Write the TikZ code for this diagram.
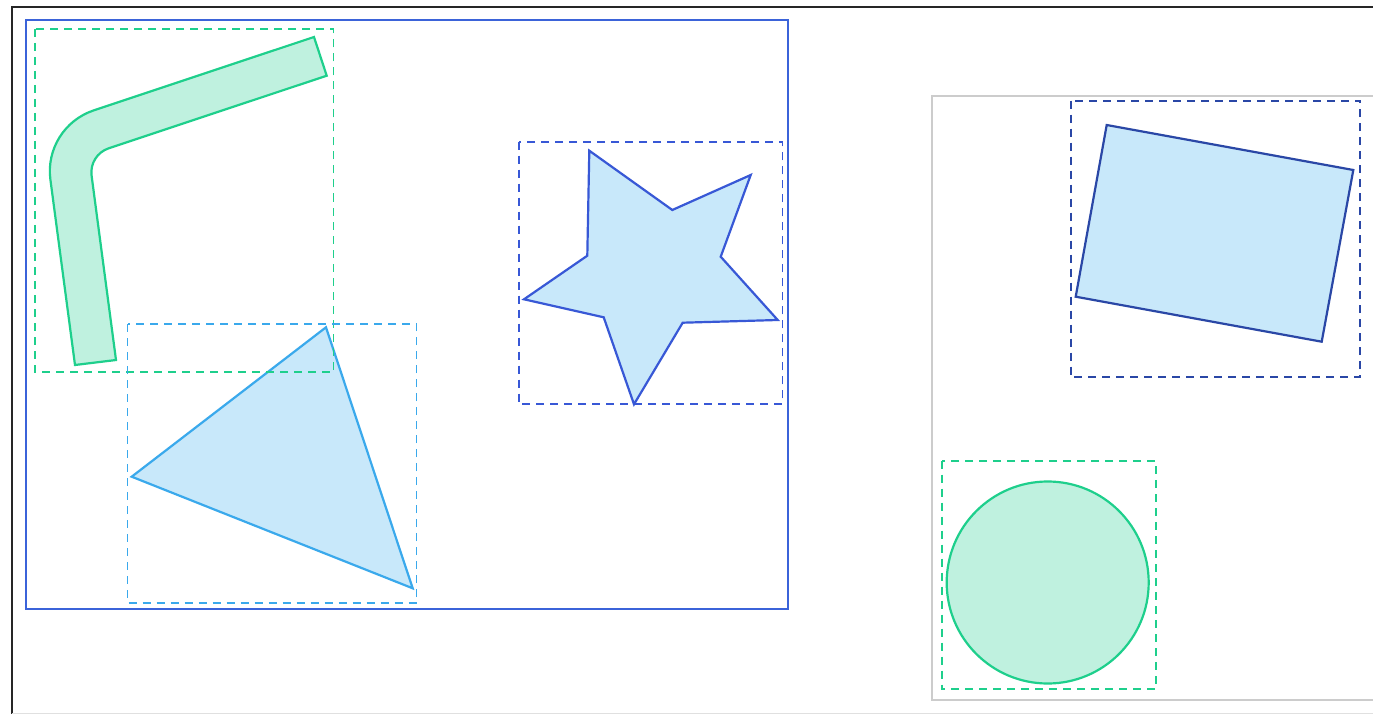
\documentclass[tikz,border=0pt]{standalone}
\usetikzlibrary{calc}
\definecolor{emer}{HTML}{1ECF8C}
\definecolor{emerfill}{HTML}{BFF1DF}
\definecolor{frameblue}{HTML}{3B63D9}
\definecolor{sky}{HTML}{3AA9EC}
\definecolor{starblue}{HTML}{3858D6}
\definecolor{navy}{HTML}{2A47A6}
\definecolor{lightfill}{HTML}{C8E8FA}
\definecolor{panelgray}{HTML}{CCCCCC}
\tikzset{
  bbox/.style={dash pattern=on 8pt off 6pt, line width=1.9pt},
  shapeline/.style={line width=2.2pt, line join=miter},
}
\begin{document}
\begin{tikzpicture}[x=1pt,y=-1pt]
\useasboundingbox (0,0) rectangle (1373,714);
\clip (0,0) rectangle (1373,714);
\fill[white] (0,0) rectangle (1373,714);
% page frame
\draw[line width=2.2pt, black!85] (12,716) -- (12,7) -- (1380,7);
\draw[line width=1pt, black!12] (12,713.5) -- (1380,713.5);
% left blue frame
\draw[frameblue, line width=2.2pt] (26,20) rectangle (788,609);
% right gray panel
\draw[panelgray, line width=2.2pt] (1380,96) -- (932,96) -- (932,700) -- (1380,700);

% bent bar
\coordinate (O) at (43.4,127.1);
\coordinate (I) at (88.8,154.9);
\coordinate (T1o) at (93.7,110.4);
\coordinate (T2o) at (50.4,179.6);
\coordinate (T1i) at (108.7,148.3);
\coordinate (T2i) at (91.6,175.7);
\filldraw[draw=emer, fill=emerfill, shapeline]
  (314,37) -- (T1o) .. controls ($(T1o)!0.58!(O)$) and ($(T2o)!0.58!(O)$) .. (T2o)
  -- (75,365) -- (116,360) -- (T2i)
  .. controls ($(T2i)!0.58!(I)$) and ($(T1i)!0.58!(I)$) .. (T1i)
  -- (326.7,75.7) -- cycle;

% triangle
\filldraw[draw=sky, fill=lightfill, shapeline] (326,327.3) -- (131.7,476.7) -- (412.7,588.3) -- cycle;

% star
\filldraw[draw=starblue, fill=lightfill, shapeline]
  (589.3,150.7) -- (672.3,210) -- (750.7,175) -- (720.7,256.7) -- (777.7,320)
  -- (682.7,322.7) -- (634,404.3) -- (603.7,317.3) -- (524,299.3) -- (587.3,255.7) -- cycle;

% rotated rectangle
\filldraw[draw=navy, fill=lightfill, shapeline]
  (1106.7,125) -- (1353.3,170) -- (1321.7,341.7) -- (1075.7,296.7) -- cycle;

% circle
\filldraw[draw=emer, fill=emerfill, shapeline] (1047.7,582.5) circle[radius=101];

% dashed bounding boxes
\draw[emer, bbox, line width=1.6pt] (35,29) rectangle (333.5,372);
\draw[sky, bbox, line width=1.6pt] (127.5,324) rectangle (416.5,603);
\draw[starblue, bbox] (519,141.7) rectangle (782.5,404.3);
\draw[navy, bbox] (1070.7,100.7) rectangle (1360,377.3);
\draw[emer, bbox, line width=2.2pt] (942,460.7) rectangle (1156,689.3);
\end{tikzpicture}
\end{document}
